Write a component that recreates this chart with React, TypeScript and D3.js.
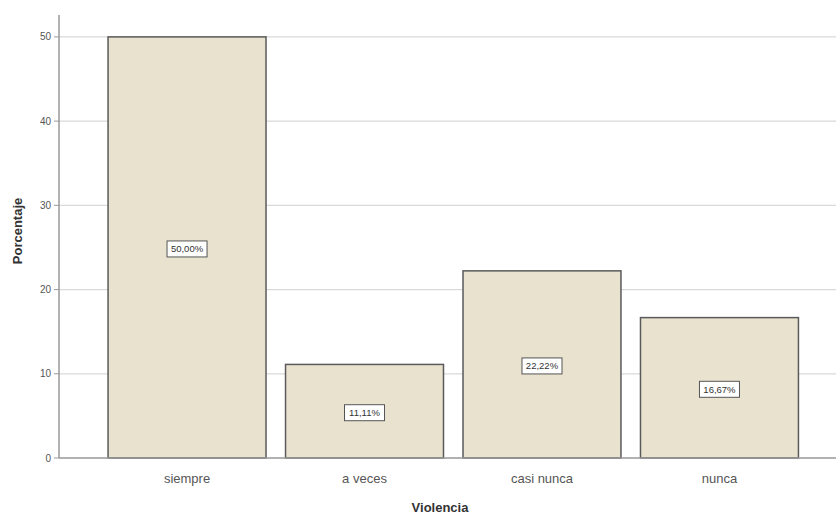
import React from "react";
import * as d3 from "d3";

const categories = ["siempre", "a veces", "casi nunca", "nunca"];
const values = [50.0, 11.11, 22.22, 16.67];
const valueLabels = ["50,00%", "11,11%", "22,22%", "16,67%"];
const yTicks = [0, 10, 20, 30, 40, 50];

export default function App() {
  const W = 836, H = 519;
  const x = d3.scaleBand<string>().domain(categories).range([88, 818.5]).paddingInner(0.11).paddingOuter(0.113);
  const y = d3.scaleLinear().domain([0, 52.6]).range([458, 15]);
  const axisX = 59;
  return (
    <svg width={W} height={H} style={{ position: "absolute", left: 0, top: 0, background: "#fff" }} fontFamily="Arial, 'Liberation Sans', sans-serif">
      {yTicks.map((t) => (
        <g key={t}>
          {t > 0 && <line x1={axisX} x2={W} y1={y(t)} y2={y(t)} stroke="#d9d9d9" strokeWidth={1.2} />}
          <line x1={axisX - 5} x2={axisX} y1={y(t)} y2={y(t)} stroke="#999" />
          <text x={axisX - 8} y={y(t)} dy="0.35em" textAnchor="end" fontSize={10} fill="#555">{t}</text>
        </g>
      ))}
      {categories.map((c, i) => {
        const bx = x(c)!;
        const bw = x.bandwidth();
        const cy = (y(0) + y(values[i])) / 2 + 1.5;
        return (
          <g key={c}>
            <rect x={bx} y={y(values[i])} width={bw} height={y(0) - y(values[i])} fill="#e8e2cf" stroke="#5a5a5a" strokeWidth={1.5} />
            <rect x={bx + bw / 2 - 20} y={cy - 8} width={40} height={16} fill="#fff" stroke="#555" strokeWidth={1} />
            <text x={bx + bw / 2} y={cy} dy="0.35em" textAnchor="middle" fontSize={9.5} fill="#333">{valueLabels[i]}</text>
            <text x={bx + bw / 2} y={478} dy="0.35em" textAnchor="middle" fontSize={13} fill="#555">{c}</text>
          </g>
        );
      })}
      <line x1={axisX} x2={axisX} y1={y(52.6)} y2={y(0)} stroke="#999" strokeWidth={1.5} />
      <line x1={axisX} x2={W} y1={y(0)} y2={y(0)} stroke="#999" strokeWidth={1.5} />
      <text x={440} y={512} textAnchor="middle" fontSize={13} fontWeight="bold" fill="#333">Violencia</text>
      <text transform="translate(22,231) rotate(-90)" textAnchor="middle" fontSize={13} fontWeight="bold" fill="#333">Porcentaje</text>
    </svg>
  );
}
